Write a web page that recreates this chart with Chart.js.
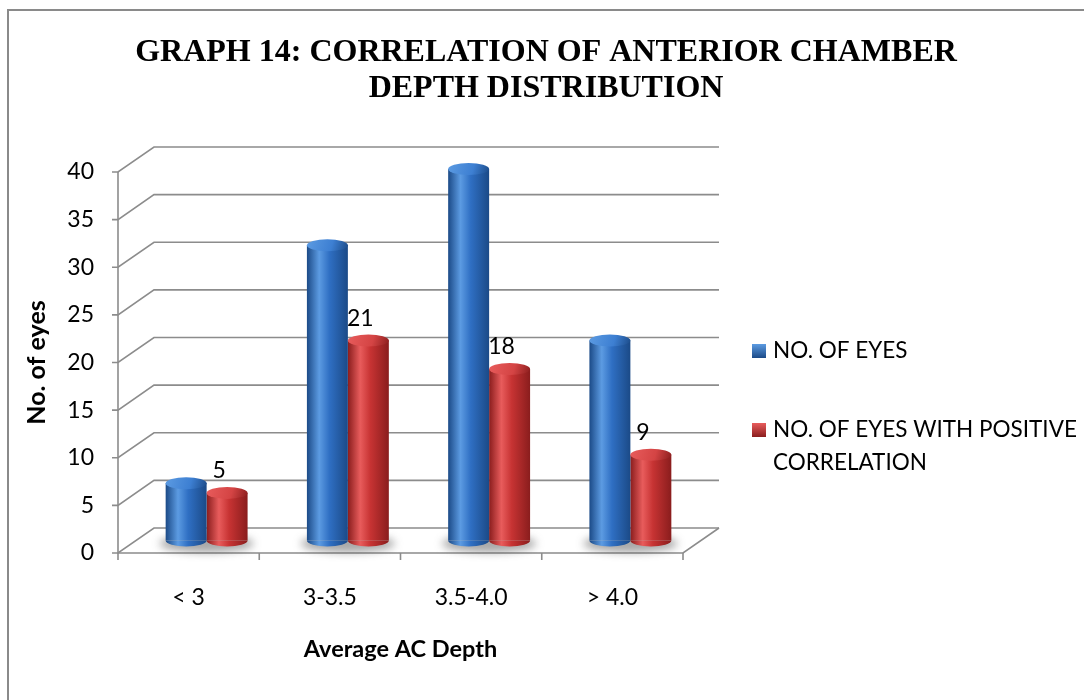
<!doctype html>
<html lang="en">
<head>
    <meta charset="UTF-8">
    <title>GRAPH 14</title>
    <script src="https://cdn.jsdelivr.net/npm/chart.js"></script>
    <style>
        html, body { margin: 0; padding: 0; background: #fff; }
        .grafico { width: 1084px; height: 700px; position: relative; }
    </style>
</head>
<body>
    <div class="grafico">
        <canvas id="grafico14"></canvas>
    </div>

    <script>
        // data
        const categories = ['< 3', '3-3.5', '3.5-4.0', '> 4.0'];
        const eyes = [6, 31, 39, 21];
        const positiveEyes = [5, 21, 18, 9];
        const yTicks = [0, 5, 10, 15, 20, 25, 30, 35, 40];
        const seriesNames = ['NO. OF EYES', 'NO. OF EYES WITH POSITIVE CORRELATION'];
        const titleLines = ['GRAPH 14: CORRELATION OF ANTERIOR CHAMBER', 'DEPTH DISTRIBUTION'];

        const FONT = 'Lato, "Open Sans", sans-serif';
        const DEPTH_X = 36, DEPTH_Y = -25;   // back wall offset (fake 3d)
        const CAT_PCT = 0.58;
        const TOP_RY = 6;
        const colours = [
            { dark: '#1b4a87', mid: '#2f6fc3', light: '#5c9be2', cap: '#3d7fd2' },
            { dark: '#8a1d1d', mid: '#c73333', light: '#e85c5c', cap: '#d44444' }
        ];

        const cylGradient = (ctx, x, w, c) => {
            const g = ctx.createLinearGradient(x - w / 2, 0, x + w / 2, 0);
            g.addColorStop(0, c.dark);
            g.addColorStop(0.3, c.light);
            g.addColorStop(0.55, c.mid);
            g.addColorStop(1, c.dark);
            return g;
        };

        // bar fill: gradient across the bar, positions taken from the x scale
        const barFill = (c) => {
            const chart = c.chart, x = chart.scales.x;
            const col = colours[c.datasetIndex];
            if (!chart.chartArea || c.dataIndex === undefined || !x) return col.mid;
            const cw = (x.right - x.left) / categories.length;
            const bw = cw * CAT_PCT / 2;
            const cx = x.getPixelForValue(c.dataIndex) + (c.datasetIndex === 0 ? -bw / 2 : bw / 2);
            return cylGradient(chart.ctx, cx, bw, col);
        };

        const framePlugin = {
            id: 'frame',
            beforeDraw(chart) {
                const ctx = chart.ctx;
                ctx.save();
                ctx.strokeStyle = '#8a8a8a';
                ctx.lineWidth = 2;
                ctx.beginPath();
                ctx.moveTo(8, 700);
                ctx.lineTo(8, 10);
                ctx.lineTo(1084, 10);
                ctx.stroke();
                ctx.restore();
            },
            beforeDatasetsDraw(chart) {
                const { ctx, scales: { x, y } } = chart;
                const left = x.left, right = x.right;
                const bottom = y.getPixelForValue(0);
                ctx.save();
                ctx.strokeStyle = '#8c8c8c';
                ctx.lineWidth = 1.6;
                yTicks.forEach(v => {
                    const py = y.getPixelForValue(v);
                    ctx.beginPath();
                    ctx.moveTo(left - 6, py);
                    ctx.lineTo(left, py);
                    ctx.lineTo(left + DEPTH_X, py + DEPTH_Y);
                    ctx.lineTo(right + DEPTH_X, py + DEPTH_Y);
                    ctx.stroke();
                });
                ctx.beginPath();
                ctx.moveTo(left, y.getPixelForValue(yTicks[yTicks.length - 1]));
                ctx.lineTo(left, bottom);
                ctx.lineTo(right, bottom);
                ctx.lineTo(right + DEPTH_X, bottom + DEPTH_Y);
                ctx.stroke();
                for (let i = 0; i <= categories.length; i++) {
                    const px = left + (right - left) * i / categories.length;
                    ctx.beginPath();
                    ctx.moveTo(px, bottom);
                    ctx.lineTo(px, bottom + 7);
                    ctx.stroke();
                }
                ctx.restore();

                // bars stand half way into the depth
                ctx.save();
                ctx.translate(DEPTH_X / 2, DEPTH_Y / 2);
                // floor shadows
                const m0 = chart.getDatasetMeta(0).data, m1 = chart.getDatasetMeta(1).data;
                ctx.save();
                ctx.filter = 'blur(4px)';
                ctx.fillStyle = 'rgba(60,60,60,0.45)';
                m0.forEach((el, i) => {
                    const el2 = m1[i];
                    const cx = (el.x + el2.x) / 2;
                    ctx.beginPath();
                    ctx.ellipse(cx, el.base + 3, el.width * 1.15, 9, 0, 0, Math.PI * 2);
                    ctx.fill();
                });
                ctx.restore();
            },
            afterDatasetsDraw(chart) {
                const ctx = chart.ctx;
                chart.data.datasets.forEach((ds, di) => {
                    const col = colours[di];
                    chart.getDatasetMeta(di).data.forEach((el, i) => {
                        const w = el.width;
                        // rounded bottom
                        ctx.fillStyle = cylGradient(ctx, el.x, w, col);
                        ctx.beginPath();
                        ctx.ellipse(el.x, el.base, w / 2, TOP_RY, 0, 0, Math.PI);
                        ctx.fill();
                        // top cap
                        const g = ctx.createLinearGradient(el.x - w / 2, el.y - TOP_RY, el.x + w / 2, el.y + TOP_RY);
                        g.addColorStop(0, col.light);
                        g.addColorStop(0.6, col.cap);
                        g.addColorStop(1, col.dark);
                        ctx.fillStyle = g;
                        ctx.beginPath();
                        ctx.ellipse(el.x, el.y, w / 2, TOP_RY, 0, 0, Math.PI * 2);
                        ctx.fill();
                    });
                });
                // value labels on the second series
                ctx.fillStyle = '#000';
                ctx.font = '23px ' + FONT;
                ctx.textAlign = 'center';
                ctx.textBaseline = 'middle';
                chart.getDatasetMeta(1).data.forEach((el, i) => {
                    ctx.fillText(String(positiveEyes[i]), el.x - 8, el.y - 22);
                });
                ctx.restore();   // undo the depth shift
            },
            afterDraw(chart) {
                // legend on the right, with wrapped text
                const ctx = chart.ctx;
                const boxX = 752, textX = 773, lineH = 33;
                const rows = [351, 430];
                ctx.save();
                ctx.font = '22.5px ' + FONT;
                ctx.textBaseline = 'middle';
                ctx.fillStyle = '#000';
                seriesNames.forEach((name, i) => {
                    const col = colours[i];
                    const g = ctx.createLinearGradient(0, rows[i] - 7, 0, rows[i] + 7);
                    g.addColorStop(0, col.light);
                    g.addColorStop(1, col.dark);
                    ctx.fillStyle = g;
                    ctx.fillRect(boxX, rows[i] - 7, 14, 14);
                    ctx.fillStyle = '#000';
                    const words = name.split(' ');
                    let line = '', yy = rows[i];
                    words.forEach(wd => {
                        const test = line ? line + ' ' + wd : wd;
                        if (ctx.measureText(test).width > 1084 - textX - 2 && line) {
                            ctx.fillText(line, textX, yy);
                            line = wd;
                            yy += lineH;
                        } else {
                            line = test;
                        }
                    });
                    ctx.fillText(line, textX, yy);
                });
                ctx.restore();
            }
        };

        const grafico = new Chart(document.getElementById('grafico14'), {
            type: 'bar',
            data: {
                labels: categories,
                datasets: [
                    { label: seriesNames[0], data: eyes, backgroundColor: barFill, borderWidth: 0, clip: false },
                    { label: seriesNames[1], data: positiveEyes, backgroundColor: barFill, borderWidth: 0, clip: false }
                ]
            },
            options: {
                responsive: true,
                maintainAspectRatio: false,
                animation: false,
                categoryPercentage: CAT_PCT,
                barPercentage: 1.0,
                layout: { padding: { left: 8, right: 0, top: 0, bottom: 0 } },
                plugins: {
                    legend: { display: false },
                    tooltip: { enabled: false },
                    title: {
                        display: true,
                        text: titleLines,
                        color: '#000',
                        font: { family: '"Liberation Serif", "Times New Roman", serif', size: 32, weight: 'bold', lineHeight: 1.125 },
                        padding: { top: 35, bottom: 65 }
                    }
                },
                scales: {
                    x: {
                        grid: { display: false, drawTicks: false },
                        border: { display: false },
                        ticks: { color: '#000', padding: 31, font: { family: FONT, size: 23 } },
                        title: {
                            display: true, text: 'Average AC Depth', color: '#000',
                            font: { family: FONT, size: 23.5, weight: 'bold' },
                            padding: { top: 0, bottom: 36 }
                        },
                        afterFit: s => { s.height = 147; }
                    },
                    y: {
                        min: 0,
                        max: 40,
                        afterBuildTicks: s => { s.ticks = yTicks.map(v => ({ value: v })); },
                        grid: { display: false, drawTicks: false },
                        border: { display: false },
                        ticks: { color: '#000', padding: 24, font: { family: FONT, size: 23 } },
                        title: {
                            display: true, text: 'No. of eyes', color: '#000',
                            font: { family: FONT, size: 25, weight: 'bold' },
                            padding: { top: 14, bottom: 0 }
                        },
                        afterFit: s => { s.width = 110; }
                    },
                    legendSpace: {
                        type: 'linear',
                        position: 'right',
                        grid: { display: false, drawTicks: false },
                        border: { display: false },
                        ticks: { display: false },
                        afterFit: s => { s.width = 401; }
                    }
                }
            },
            plugins: [framePlugin]
        });
    </script>
</body>
</html>
